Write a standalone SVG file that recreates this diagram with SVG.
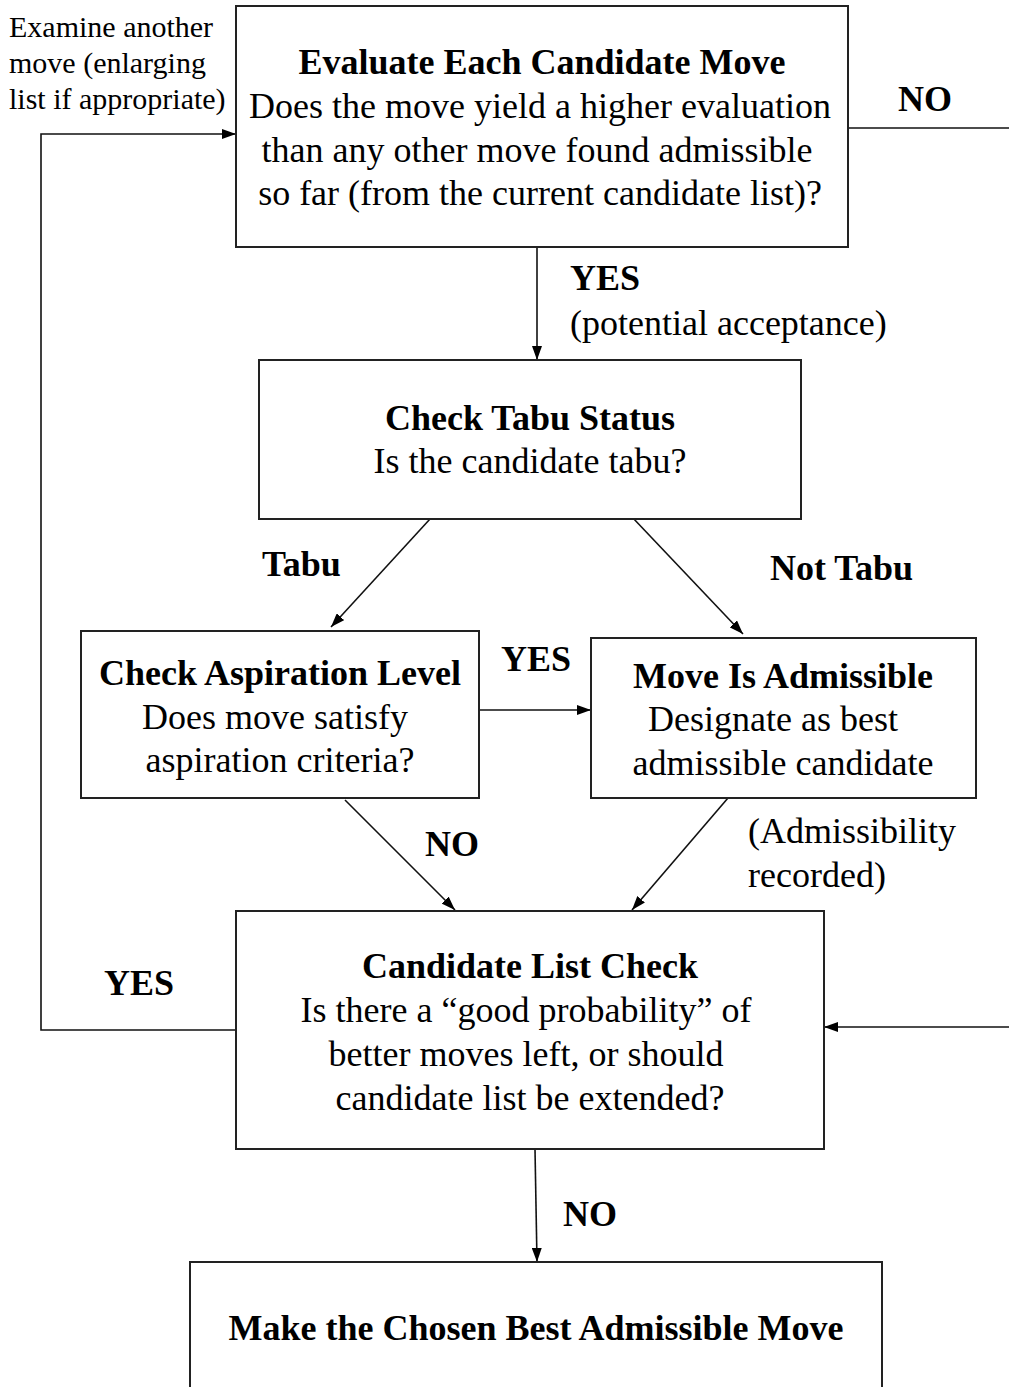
<svg xmlns="http://www.w3.org/2000/svg" width="1009" height="1387" viewBox="0 0 1009 1387">
<style>
.box{fill:#fff;stroke:#222;stroke-width:2}
.ln{fill:none;stroke:#111;stroke-width:1.6}
text{font-family:"Liberation Serif","Times New Roman",serif;fill:#000}
.t{font-size:36px;font-weight:bold;text-anchor:middle}
.b{font-size:36px;text-anchor:middle}
.lb{font-size:36px;font-weight:bold}
.lr{font-size:36px}
.sm{font-size:30px}
</style>
<defs>
<marker id="ah" viewBox="0 0 14 10" refX="14" refY="5" markerWidth="14" markerHeight="10" markerUnits="userSpaceOnUse" orient="auto">
<path d="M0,0 L14,5 L0,10 Z" fill="#000"/>
</marker>
</defs>
<rect width="1009" height="1387" fill="#fff"/>
<g id="connectors">
<line class="ln" x1="537" y1="247" x2="537" y2="360" marker-end="url(#ah)"/>
<line class="ln" x1="430" y1="519" x2="331" y2="627" marker-end="url(#ah)"/>
<line class="ln" x1="632" y1="517" x2="743" y2="634" marker-end="url(#ah)"/>
<line class="ln" x1="479" y1="710" x2="591" y2="710" marker-end="url(#ah)"/>
<line class="ln" x1="345" y1="800" x2="455" y2="910" marker-end="url(#ah)"/>
<line class="ln" x1="728" y1="798" x2="632" y2="910" marker-end="url(#ah)"/>
<polyline class="ln" points="236,1030 41,1030 41,134 236,134" marker-end="url(#ah)"/>
<line class="ln" x1="848" y1="128" x2="1009" y2="128"/>
<line class="ln" x1="1009" y1="1027" x2="824" y2="1027" marker-end="url(#ah)"/>
<line class="ln" x1="535" y1="1149" x2="537" y2="1262" marker-end="url(#ah)"/>
<g id="connector-labels">
<text class="sm" x="9" y="37">Examine another</text>
<text class="sm" x="9" y="73">move (enlarging</text>
<text class="sm" x="9" y="109">list if appropriate)</text>
<text class="lb" x="898" y="111">NO</text>
<text class="lb" x="570" y="290">YES</text>
<text class="lr" x="570" y="335">(potential acceptance)</text>
<text class="lb" x="262" y="576">Tabu</text>
<text class="lb" x="770" y="580">Not Tabu</text>
<text class="lb" x="501" y="671">YES</text>
<text class="lb" x="425" y="856">NO</text>
<text class="lr" x="748" y="843">(Admissibility</text>
<text class="lr" x="748" y="887">recorded)</text>
<text class="lb" x="104" y="995">YES</text>
<text class="lb" x="563" y="1226">NO</text>
</g>
</g>
<g id="evaluate">
<rect class="box" x="236" y="6" width="612" height="241"/>
<text class="t" x="542" y="74">Evaluate Each Candidate Move</text>
<text class="b" x="540" y="118">Does the move yield a higher evaluation</text>
<text class="b" x="537" y="162">than any other move found admissible</text>
<text class="b" x="540" y="205">so far (from the current candidate list)?</text>
</g>
<g id="tabu-status">
<rect class="box" x="259" y="360" width="542" height="159"/>
<text class="t" x="530" y="430">Check Tabu Status</text>
<text class="b" x="530" y="473">Is the candidate tabu?</text>
</g>
<g id="aspiration">
<rect class="box" x="81" y="631" width="398" height="167"/>
<text class="t" x="280" y="685">Check Aspiration Level</text>
<text class="b" x="275" y="729">Does move satisfy</text>
<text class="b" x="280" y="772">aspiration criteria?</text>
</g>
<g id="admissible">
<rect class="box" x="591" y="638" width="385" height="160"/>
<text class="t" x="783" y="688">Move Is Admissible</text>
<text class="b" x="773" y="731">Designate as best</text>
<text class="b" x="783" y="775">admissible candidate</text>
</g>
<g id="candidate-list">
<rect class="box" x="236" y="911" width="588" height="238"/>
<text class="t" x="530" y="978">Candidate List Check</text>
<text class="b" x="526" y="1022">Is there a “good probability” of</text>
<text class="b" x="526" y="1066">better moves left, or should</text>
<text class="b" x="530" y="1110">candidate list be extended?</text>
</g>
<g id="make-move">
<rect class="box" x="190" y="1262" width="692" height="160"/>
<text class="t" x="536" y="1340">Make the Chosen Best Admissible Move</text>
</g>
</svg>
